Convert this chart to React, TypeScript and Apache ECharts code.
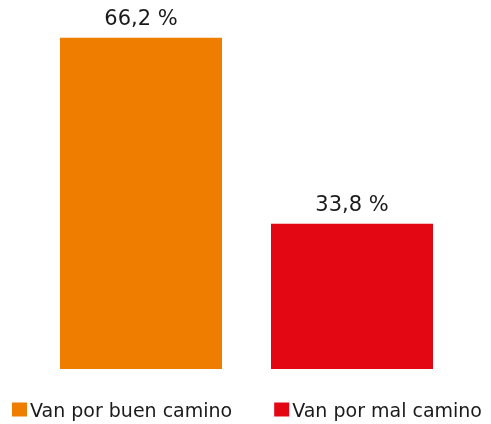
import React, { useEffect, useRef } from "react";
import * as echarts from "echarts";

const categories = ["Van por buen camino", "Van por mal camino"];
const values = [66.2, 33.8];
const colors = ["#EF7D00", "#E30613"];

export default function App() {
  const ref = useRef<HTMLDivElement>(null);
  useEffect(() => {
    if (!ref.current) return;
    const chart = echarts.init(ref.current, null, { renderer: "svg" });
    const series = categories.map((name, i) => ({
      name,
      type: "bar",
      stack: "s",
      barWidth: 162,
      itemStyle: { color: colors[i] },
      data: values.map((v, j) => (j === i ? v : "-")),
      label: {
        show: true,
        position: "top",
        distance: 9,
        color: "#1a1a1a",
        fontSize: 21,
        fontFamily: "DejaVu Sans",
        formatter: (p: any) => String(p.value).replace(".", ",") + " %",
      },
    }));
    chart.setOption({
      animation: false,
      grid: { left: 35.5, width: 422, top: 16, bottom: 55 },
      xAxis: {
        type: "category",
        data: categories,
        show: false,
      },
      yAxis: { type: "value", min: 8.5, max: 70, show: false },
      legend: {
        data: categories,
        left: 12,
        top: 400,
        padding: 0,
        width: 600,
        icon: "rect",
        itemWidth: 15,
        itemHeight: 14,
        itemGap: 42,
        textStyle: { fontSize: 19, color: "#1a1a1a", fontFamily: "DejaVu Sans", padding: [0, 0, 0, -2] },
      },
      series,
    });
    return () => chart.dispose();
  }, []);
  return (
    <div
      ref={ref}
      style={{ position: "fixed", left: 0, top: 0, width: 491, height: 424 }}
    />
  );
}
